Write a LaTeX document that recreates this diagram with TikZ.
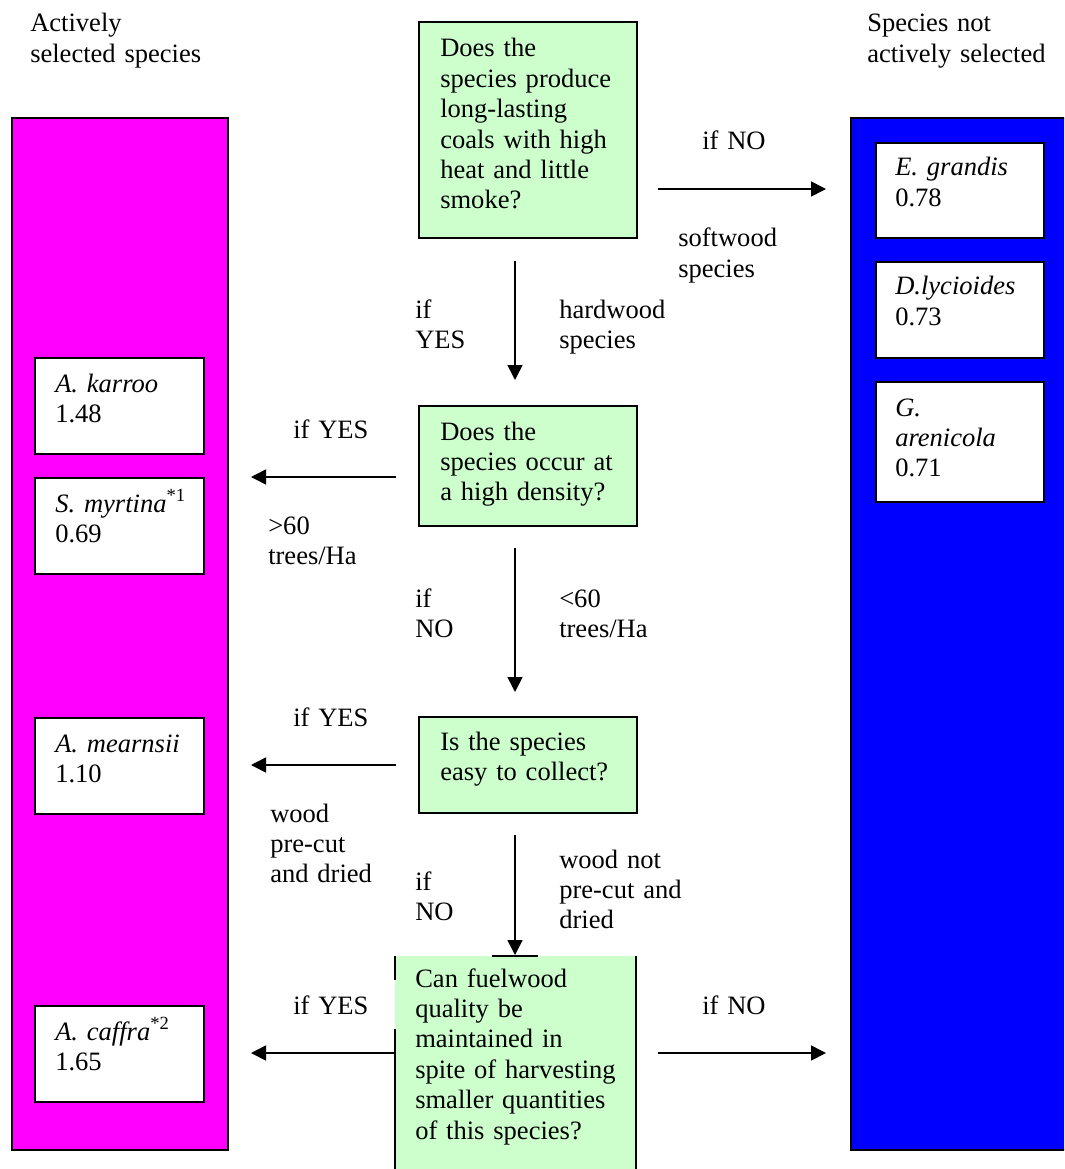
\documentclass[tikz,border=0pt]{standalone}
\usepackage{fontspec}
\setmainfont{Liberation Serif}
\usetikzlibrary{arrows.meta}
\definecolor{qgreen}{HTML}{CCFFCC}
\definecolor{selfill}{HTML}{FF00FF}
\definecolor{notfill}{HTML}{0000FF}
\newcommand\bodyfont{\fontsize{19.9}{22.8}\selectfont}
\begin{document}
\begin{tikzpicture}[x=0.75pt,y=-0.75pt,
  txt/.style={anchor=base west,inner sep=0pt,align=left,text width=230pt,font=\bodyfont},
  column/.style={draw=black,line width=1.5pt,anchor=north west,inner sep=0pt,minimum height=774pt},
  qbox/.style={draw=black,fill=qgreen,line width=1.5pt,anchor=north west,inner sep=0pt,minimum width=163.5pt},
  sbox/.style={draw=black,fill=white,line width=1.5pt,anchor=north west,inner sep=0pt},
  lsbox/.style={sbox,minimum width=126.75pt,minimum height=72pt},
  rsbox/.style={sbox,minimum width=126pt},
  arr/.style={line width=1.2pt,-{Triangle[length=11.25pt,width=11.25pt]}}]
\useasboundingbox (0,0) rectangle (1064,1169);
\clip (0,0) rectangle (1064,1169);

% column headings
\node[txt] (hsel) at (30,32) {Actively\\selected species};
\node[txt] (hnot) at (867,32) {Species not\\actively selected};

% outcome columns
\node[column,fill=selfill,minimum width=162pt] (selcol) at (11,117) {};
\node[column,fill=notfill,minimum width=180pt] (notcol) at (850,117) {};

% actively selected species
\node[lsbox] (karroo) at (34,357) {};
\node[txt] at (55,392) {\textit{A. karroo}\\1.48};
\node[lsbox] (myrtina) at (34,477) {};
\node[txt] at (55,512) {\textit{S. myrtina}\textsuperscript{*1}\\0.69};
\node[lsbox] (mearnsii) at (34,717) {};
\node[txt] at (55,752) {\textit{A. mearnsii}\\1.10};
\node[lsbox] (caffra) at (34,1005) {};
\node[txt] at (55,1040) {\textit{A. caffra}\textsuperscript{*2}\\1.65};

% species not actively selected
\node[rsbox,minimum height=71.25pt] (grandis) at (875,142) {};
\node[txt] at (895,176) {\textit{E. grandis}\\0.78};
\node[rsbox,minimum height=72pt] (lycioides) at (875,261) {};
\node[txt] at (895,295) {\textit{D.lycioides}\\0.73};
\node[rsbox,minimum height=90pt] (arenicola) at (875,381) {};
\node[txt] at (895,416) {\textit{G.}\\\textit{arenicola}\\0.71};

% decision boxes
\node[qbox,minimum height=162pt] (q1) at (418,21) {};
\node[txt] (q1t) at (440,57) {Does the\\species produce\\long-lasting\\coals with high\\heat and little\\smoke?};
\node[qbox,minimum height=90pt] (q2) at (418,405) {};
\node[txt] (q2t) at (440,440) {Does the\\species occur at\\a high density?};
\node[qbox,minimum height=72pt] (q3) at (418,716) {};
\node[txt] (q3t) at (440,750) {Is the species\\easy to collect?};
\node[anchor=north west,inner sep=0pt,fill=qgreen,minimum width=180pt,minimum height=170pt] (q4) at (395,956) {};
\draw[line width=1.5pt] (q4.north east) -- (q4.south east);
\draw[line width=1.5pt] (q4.north west) -- ([yshift=-18pt]q4.north west);
\draw[line width=1.5pt] ([yshift=-55pt]q4.north west) -- (q4.south west);
\draw[line width=1.5pt] ([xshift=72.75pt]q4.north west) -- ([xshift=107.25pt]q4.north west);
\node[txt] (q4t) at (415,987) {Can fuelwood\\quality be\\maintained in\\spite of harvesting\\smaller quantities\\of this species?};

% connector end points
\coordinate (r1s) at (658,189);  \coordinate (r1e) at (826,189);
\coordinate (d1s) at (515,261);  \coordinate (d1e) at (515,380);
\coordinate (l2s) at (396,477);  \coordinate (l2e) at (251,477);
\coordinate (d2s) at (515,548);  \coordinate (d2e) at (515,692);
\coordinate (l3s) at (396,765);  \coordinate (l3e) at (251,765);
\coordinate (d3s) at (515,835);  \coordinate (d3e) at (515,955);
\coordinate (l4s) at (396,1053); \coordinate (l4e) at (251,1053);
\coordinate (r4s) at (658,1053); \coordinate (r4e) at (826,1053);

\draw[arr] (r1s) -- (r1e);
\draw[arr] (d1s) -- (d1e);
\draw[arr] (l2s) -- (l2e);
\draw[arr] (d2s) -- (d2e);
\draw[arr] (l3s) -- (l3e);
\draw[arr] (d3s) -- (d3e);
\draw[arr] (l4s) -- (l4e);
\draw[arr] (r4s) -- (r4e);

% connector labels
\node[txt] (r1a) at (702,150) {if NO};
\node[txt] (r1b) at (678,247) {softwood\\species};
\node[txt] (d1a) at (415,318) {if\\YES};
\node[txt] (d1b) at (559,318) {hardwood\\species};
\node[txt] (l2a) at (293,438) {if YES};
\node[txt] (l2b) at (268,534) {>60\\trees/Ha};
\node[txt] (d2a) at (415,607) {if\\NO};
\node[txt] (d2b) at (559,607) {<60\\trees/Ha};
\node[txt] (l3a) at (293,726) {if YES};
\node[txt] (l3b) at (270,822) {wood\\pre-cut\\and dried};
\node[txt] (d3a) at (415,890) {if\\NO};
\node[txt] (d3b) at (559,868) {wood not\\pre-cut and\\dried};
\node[txt] (l4a) at (293,1014) {if YES};
\node[txt] (r4a) at (702,1014) {if NO};
\end{tikzpicture}
\end{document}
